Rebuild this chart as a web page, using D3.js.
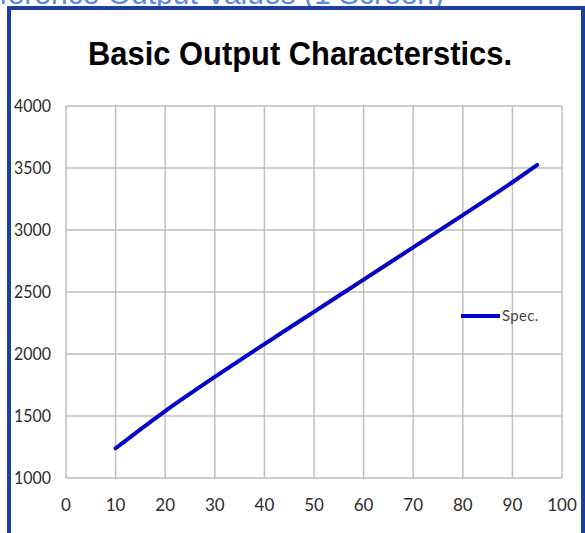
<!DOCTYPE html>
<html>
<head>
<meta charset="utf-8">
<script src="https://cdn.jsdelivr.net/npm/d3@7/dist/d3.min.js"></script>
<style>
  html, body { margin: 0; padding: 0; background: #fff; }
  svg { display: block; }
</style>
</head>
<body>
<script>
// ---- data ----
const xValues = [10, 20, 30, 40, 50, 60, 70, 80, 90, 95];
const specValues = [1240, 1540, 1815, 2080, 2340, 2600, 2860, 3120, 3385, 3525];
const xTicks = [0, 10, 20, 30, 40, 50, 60, 70, 80, 90, 100];
const yTicks = [1000, 1500, 2000, 2500, 3000, 3500, 4000];
const seriesName = "Spec.";
const titleText = "Basic Output Characterstics.";
const headerText = "Reference Output Values (1 Screen)";

const W = 585, H = 533;
const svg = d3.select("body").append("svg").attr("width", W).attr("height", H);

// header text (clipped at top in the reference)
svg.append("text")
  .attr("x", 444).attr("y", 4)
  .attr("text-anchor", "end")
  .attr("font-family", "Liberation Sans, Arial, sans-serif")
  .attr("font-size", 30)
  .attr("fill", "#5a8ae0")
  .text(headerText);

// frame
svg.append("rect")
  .attr("x", 9).attr("y", 8).attr("width", 574).attr("height", 540)
  .attr("fill", "#fff").attr("stroke", "#1c3f9e").attr("stroke-width", 4);

// title
svg.append("text")
  .attr("x", 300).attr("y", 65)
  .attr("text-anchor", "middle")
  .attr("font-family", "Liberation Sans Narrow, Arial Narrow, Liberation Sans, sans-serif")
  .attr("font-weight", "bold")
  .attr("font-size", 34)
  .attr("fill", "#000")
  .attr("textLength", 424)
  .attr("lengthAdjust", "spacingAndGlyphs")
  .text(titleText);

const x = d3.scaleLinear().domain([0, 100]).range([66, 562]);
const y = d3.scaleLinear().domain([1000, 4000]).range([478, 106]);

const grid = svg.append("g");
grid.selectAll("line.v").data(xTicks).join("line")
  .attr("x1", d => x(d)).attr("x2", d => x(d))
  .attr("y1", y(4000)).attr("y2", y(1000))
  .attr("stroke", "#bfbfbf").attr("stroke-width", 1.5);
grid.selectAll("line.h").data(yTicks).join("line")
  .attr("x1", x(0)).attr("x2", x(100))
  .attr("y1", d => y(d)).attr("y2", d => y(d))
  .attr("stroke", "#bfbfbf").attr("stroke-width", 1.5);

const labelFont = "Lato, Open Sans, sans-serif";
svg.append("g").selectAll("text").data(yTicks).join("text")
  .attr("x", 14).attr("y", d => y(d))
  .attr("dy", "0.36em")
  .attr("font-family", labelFont).attr("font-size", 17)
  .attr("fill", "#2b2b2b")
  .attr("textLength", 37).attr("lengthAdjust", "spacingAndGlyphs")
  .text(d => d);

svg.append("g").selectAll("text").data(xTicks).join("text")
  .attr("x", d => x(d)).attr("y", 505)
  .attr("dy", "0.36em")
  .attr("text-anchor", "middle")
  .attr("font-family", labelFont).attr("font-size", 17)
  .attr("fill", "#2b2b2b")
  .text(d => d);

// series line
const line = d3.line().x((d, i) => x(xValues[i])).y(d => y(d)).curve(d3.curveMonotoneX);
svg.append("path")
  .datum(specValues)
  .attr("d", line)
  .attr("fill", "none")
  .attr("stroke", "#0000c8")
  .attr("stroke-width", 4)
  .attr("stroke-linecap", "round");

// legend
const lg = svg.append("g");
lg.append("line")
  .attr("x1", 461).attr("x2", 500).attr("y1", 316).attr("y2", 316)
  .attr("stroke", "#0000c8").attr("stroke-width", 4);
lg.append("text")
  .attr("x", 502).attr("y", 316).attr("dy", "0.36em")
  .attr("font-family", labelFont).attr("font-size", 15)
  .attr("fill", "#444")
  .attr("letter-spacing", 0.3)
  .text(seriesName);
</script>
</body>
</html>
